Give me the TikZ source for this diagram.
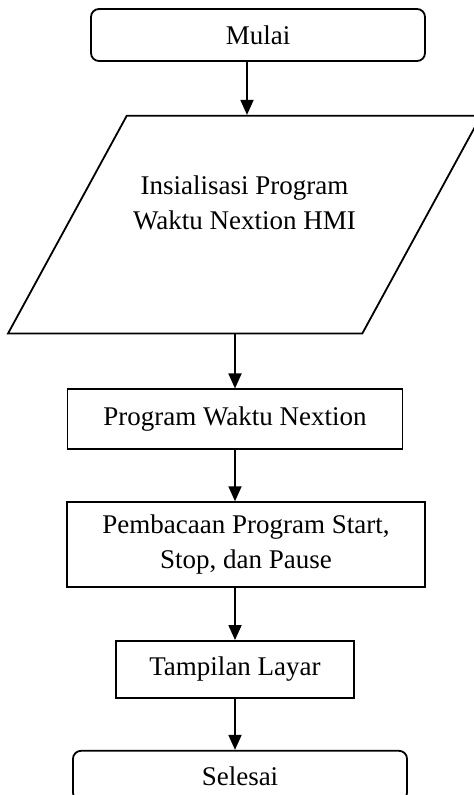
\documentclass[tikz,border=0pt]{standalone}
\usepackage{fontspec}
\setmainfont{Liberation Serif}
\usetikzlibrary{positioning,shapes.geometric,arrows.meta}

\tikzset{
  flow/.style={draw, line width=0.9pt, font=\fontsize{13.5pt}{17.5pt}\selectfont, align=center, inner sep=2pt},
  terminal/.style={flow, rectangle, rounded corners=4pt, minimum width=167pt, minimum height=26pt},
  process/.style={flow, rectangle},
  io/.style={flow, trapezium, trapezium left angle=61.4, trapezium right angle=118.6,
    trapezium stretches body, inner ysep=29.75pt, minimum width=236.5pt},
  arr/.style={line width=0.9pt, -{Triangle[width=6.5pt,length=7.5pt]}}
}

\begin{document}
\begin{tikzpicture}
  \useasboundingbox (-129pt,17.5pt) rectangle ++(236.5pt,-397.5pt);

  \node[terminal] (mulai) {Mulai};
  \node[io, below=26.5pt of mulai, xshift=-6.75pt] (init) {Insialisasi Program\\Waktu Nextion HMI\\[5pt]\mbox{}};
  \node[process, minimum width=167.5pt, minimum height=30pt, below=27pt of init, xshift=-4.75pt] (prog) {Program Waktu Nextion};
  \node[process, minimum width=179pt, minimum height=42.5pt, below=25.5pt of prog, xshift=5.5pt] (baca) {Pembacaan Program Start,\\Stop, dan Pause};
  \node[process, minimum width=119pt, minimum height=28.5pt, below=26pt of baca, xshift=-5.5pt] (tampil) {Tampilan Layar};
  \node[terminal, minimum height=25pt, below=25.5pt of tampil, xshift=2.5pt] (selesai) {Selesai};

  \draw[arr] ([xshift=-5.5pt]mulai.south) -- ([xshift=-5.5pt]mulai.south |- init.north);
  \draw[arr] (prog.north |- init.south) -- (prog.north);
  \draw[arr] (prog.south) -- (prog.south |- baca.north);
  \draw[arr] (tampil.north |- baca.south) -- (tampil.north);
  \draw[arr] (tampil.south) -- (tampil.south |- selesai.north);
\end{tikzpicture}
\end{document}
